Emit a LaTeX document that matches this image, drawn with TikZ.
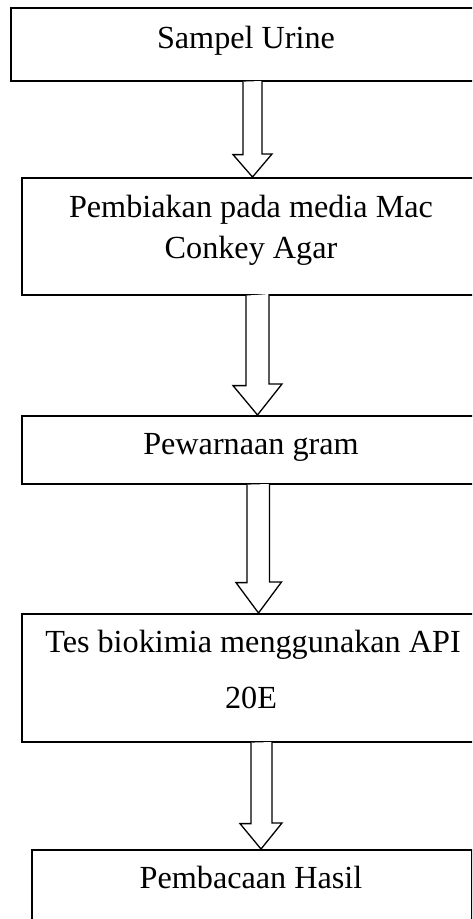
\documentclass[tikz,border=0pt]{standalone}
\usepackage{fontspec}
\setmainfont{Liberation Serif}
\usetikzlibrary{calc}
\begin{document}
\begin{tikzpicture}[x=1pt,y=-1pt,
  box/.style={draw=black,line width=1.6pt,rectangle,inner sep=0pt,anchor=north west},
  lbl/.style={anchor=base,inner sep=0pt,font=\fontsize{32.2}{38}\selectfont},
  harrow/.style={draw=black,line width=1.3pt,line join=miter,fill=white}]
\useasboundingbox (0,0) rectangle (472,919);
\clip (0,0) rectangle (472,919);
% boxes
\node[box,minimum width=490pt,minimum height=73pt] (b1) at (10,7) {};
\node[box,minimum width=480pt,minimum height=117pt] (b2) at (21,177) {};
\node[box,minimum width=480pt,minimum height=68pt] (b3) at (21,415) {};
\node[box,minimum width=480pt,minimum height=128pt] (b4) at (21,613) {};
\node[box,minimum width=440pt,minimum height=120pt] (b5) at (31,849) {};
% texts
\node[lbl] (t1) at (246,48) {Sampel Urine};
\node[lbl] (t2a) at (251,217) {Pembiakan pada media Mac};
\node[lbl] (t2b) at (251,258) {Conkey Agar};
\node[lbl] (t3) at (251,454) {Pewarnaan gram};
\node[lbl] (t4a) at (253,652) {Tes biokimia menggunakan API};
\node[lbl] (t4b) at (251,708) {20E};
\node[lbl] (t5) at (251,888) {Pembacaan Hasil};
% reference x positions for arrows
\coordinate (c1) at (252.5,0);
\coordinate (c2) at (257.5,0);
\coordinate (c3) at (258.5,0);
\coordinate (c4) at (261,0);
% hollow block arrows
\draw[harrow] ($(c1 |- b1.south)+(-9.5,0)$) -- ++(0,73) -- ++(-10,0) -- (c1 |- b2.north) -- ++(19.5,-23) -- ++(-10,0) -- ++(0,-73);
\draw[harrow] ($(c2 |- b2.south)+(-11.5,0)$) -- ++(0,90) -- ++(-13,0) -- (c2 |- b3.north) -- ++(24.5,-31) -- ++(-13,0) -- ++(0,-90);
\draw[harrow] ($(c3 |- b3.south)+(-11.5,0)$) -- ++(0,98) -- ++(-11,0) -- (c3 |- b4.north) -- ++(23,-31) -- ++(-12,0) -- ++(0,-98);
\draw[harrow] ($(c4 |- b4.south)+(-10,0)$) -- ++(0,81) -- ++(-11,0) -- (c4 |- b5.north) -- ++(21,-26) -- ++(-10,0) -- ++(0,-81);
\end{tikzpicture}
\end{document}
